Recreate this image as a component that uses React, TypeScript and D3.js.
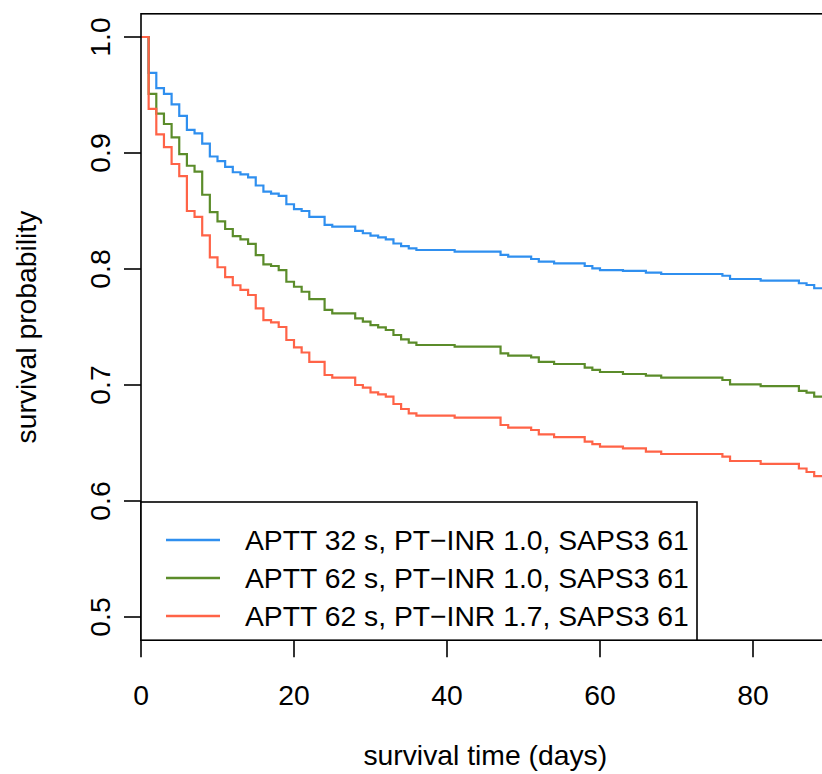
import React from "react";
import * as d3 from "d3";

const times = [0,1,2,3,4,5,6,7,8,9,10,11,12,13,14,15,16,17,18,19,20,21,22,24,25,28,29,30,31,32,33,34,35,36,41,47,48,51,52,54,58,59,60,63,66,68,76,77,81,86,87,88];

const survBlue = [1.0,0.969,0.956,0.951,0.942,0.932,0.920,0.917,0.908,0.897,0.893,0.888,0.8834,0.8816,0.879,0.872,0.8667,0.865,0.863,0.8558,0.8517,0.850,0.845,
  0.838,0.8365,0.8328,0.8308,0.8287,0.8273,0.8256,0.822,0.8198,0.8178,0.8164,
  0.815,0.8121,0.8106,0.8086,0.8063,0.8049,0.8026,0.8006,0.7991,
  0.7983,0.7968,0.7957,0.7942,0.7914,0.790,0.7877,0.7862,0.7834];

const survGreen = [1.0,0.951,0.934,0.925,0.9135,0.899,0.889,0.884,0.864,0.849,0.841,0.8345,0.8284,0.8256,0.8216,0.812,0.804,0.8026,0.799,0.789,0.7847,0.7804,0.774,
  0.7647,0.7618,0.7575,0.7546,0.7517,0.7497,0.7474,0.7431,0.7394,0.7365,0.7345,
  0.733,0.7273,0.7253,0.7239,0.720,0.7181,0.715,0.713,0.7112,
  0.7095,0.708,0.7063,0.7043,0.7006,0.6991,0.695,0.6934,0.690];

const survRed = [1.0,0.938,0.916,0.905,0.8905,0.880,0.850,0.845,0.829,0.810,0.8015,0.793,0.786,0.782,0.7776,0.766,0.756,0.754,0.750,0.7388,0.7325,0.728,0.720,
  0.7086,0.7063,0.700,0.6977,0.6937,0.692,0.690,0.6836,0.6793,0.6756,0.6736,
  0.6718,0.6655,0.6632,0.6612,0.6575,0.655,0.6511,0.649,0.6468,
  0.6454,0.6425,0.6405,0.6382,0.6345,0.632,0.628,0.625,0.6215];

const seriesLabels = [
  "APTT 32 s, PT\u2212INR 1.0, SAPS3 61",
  "APTT 62 s, PT\u2212INR 1.0, SAPS3 61",
  "APTT 62 s, PT\u2212INR 1.7, SAPS3 61",
];
const seriesColors = ["#2F8FEF", "#5B8C2A", "#FF6347"];
const xTicks = [0, 20, 40, 60, 80];
const yTicks = [0.5, 0.6, 0.7, 0.8, 0.9, 1.0];
const xMax = 90;

const W = 822, H = 774;
const left = 141, right = 829.5, top = 13.8, bottom = 640.2;
const FONT = "'Liberation Sans', Arial, Helvetica, sans-serif";
const FS = 28.3;

export default function App() {
  const x = d3.scaleLinear().domain([0, xMax]).range([left, right]);
  const y = d3.scaleLinear().domain([0.48, 1.02]).range([bottom, top]);
  const line = d3.line<[number, number]>()
    .x(d => x(d[0]))
    .y(d => y(d[1]))
    .curve(d3.curveStepAfter);

  const series = [survBlue, survGreen, survRed].map(vals => {
    const pts: [number, number][] = times.map((t, i) => [t, vals[i]]);
    pts.push([xMax, vals[vals.length - 1]]);
    return pts;
  });

  const legTop = 502, legRight = 697;
  const rowY = [540, 578, 616];

  return (
    <div style={{ position: "fixed", left: 0, top: 0, width: W, height: H, background: "#fff" }}>
      <svg width={W} height={H} style={{ display: "block" }} fontFamily={FONT}>
        <rect x={0} y={0} width={W} height={H} fill="#fff" />
        <defs>
          <clipPath id="plotclip">
            <rect x={left} y={top} width={right - left} height={bottom - top} />
          </clipPath>
        </defs>
        <g clipPath="url(#plotclip)">
          {series.map((pts, i) => (
            <path key={i} d={line(pts) || ""} fill="none" stroke={seriesColors[i]} strokeWidth={2.2} />
          ))}
        </g>
        {/* plot box */}
        <rect x={left} y={top} width={right - left} height={bottom - top} fill="none" stroke="#000" strokeWidth={1.6} />
        {/* x axis ticks */}
        {xTicks.map(t => (
          <g key={t}>
            <line x1={x(t)} x2={x(t)} y1={bottom} y2={bottom + 17} stroke="#000" strokeWidth={1.6} />
            <text x={x(t)} y={705} fontSize={FS} textAnchor="middle" fill="#000">{t}</text>
          </g>
        ))}
        {/* y axis ticks */}
        {yTicks.map(v => (
          <g key={v}>
            <line x1={left - 17} x2={left} y1={y(v)} y2={y(v)} stroke="#000" strokeWidth={1.6} />
            <text x={110} y={y(v)} fontSize={FS} textAnchor="middle" fill="#000"
              transform={`rotate(-90, 110, ${y(v)})`}>{v.toFixed(1)}</text>
          </g>
        ))}
        <text x={(left + right) / 2} y={765} fontSize={FS} textAnchor="middle" fill="#000">survival time (days)</text>
        <text x={36} y={(top + bottom) / 2} fontSize={FS} textAnchor="middle" fill="#000"
          transform={`rotate(-90, 36, ${(top + bottom) / 2})`}>survival probability</text>
        {/* legend */}
        <rect x={left} y={legTop} width={legRight - left} height={bottom - legTop} fill="#fff" stroke="#000" strokeWidth={1.6} />
        {seriesLabels.map((lab, i) => (
          <g key={lab}>
            <line x1={166} x2={220} y1={rowY[i]} y2={rowY[i]} stroke={seriesColors[i]} strokeWidth={2.4} />
            <text x={245} y={rowY[i] + 10} fontSize={FS} fill="#000">{lab}</text>
          </g>
        ))}
      </svg>
    </div>
  );
}
